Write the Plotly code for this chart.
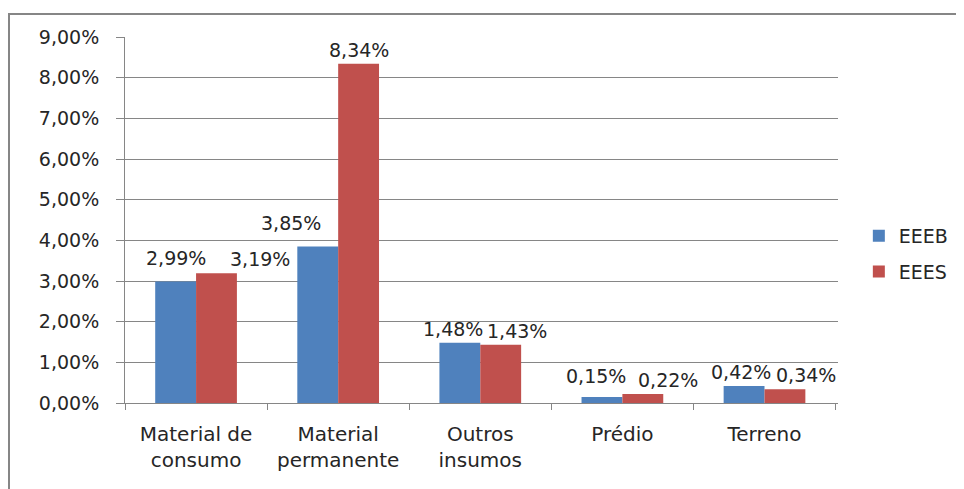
import plotly.graph_objects as go

categories = ["Material de<br>consumo", "Material<br>permanente", "Outros<br>insumos", "Prédio", "Terreno"]
eeeb = [0.0299, 0.0385, 0.0148, 0.0015, 0.0042]
eees = [0.0319, 0.0834, 0.0143, 0.0022, 0.0034]
series_names = ["EEEB", "EEES"]
tick_vals = [0, 0.01, 0.02, 0.03, 0.04, 0.05, 0.06, 0.07, 0.08, 0.09]

# label style nudges (pixels)
label_dx = {"EEEB": [0, -27, -7, -6, -3], "EEES": [43, 0, 16, 25, 21]}
label_dy = {"EEEB": [9, 9, 0, 7, 0], "EEES": [0, 0, 0, 0, 0]}

colors = {"EEEB": "#4F81BD", "EEES": "#C0504D"}
FONT = "DejaVu Sans"
TXT = "#262626"
GRAY = "#868686"

# page body has an 8px margin
OFF = 8
W, H = 964 - OFF, 489 - OFF
ML, MT = 125 - OFF, 37 - OFF
pw, ph = 713, 366
MR, MB = W - ML - pw, H - MT - ph

fig = go.Figure()
for name, vals in zip(series_names, [eeeb, eees]):
    fig.add_trace(go.Bar(x=categories, y=vals, name=name, marker_color=colors[name],
                         marker_line_width=0, legendgroup=name))

cat_w = pw / len(categories)
bargap = 0.425
bw = cat_w * (1 - bargap) / 2
annotations = []
for name, vals, sgn in zip(series_names, [eeeb, eees], [-1, 1]):
    for i, (c, v) in enumerate(zip(categories, vals)):
        annotations.append(dict(
            x=c, y=v, xref="x", yref="y",
            text=f"{v*100:.2f}%".replace(".", ","),
            showarrow=False, yanchor="bottom", xanchor="center",
            xshift=sgn * bw / 2 + label_dx[name][i],
            yshift=1 + label_dy[name][i],
            font=dict(family=FONT, size=19, color=TXT),
        ))

# outer chart border
bx0 = (9 - OFF - ML) / pw
by1 = 1 + (MT - (14 - OFF)) / ph
fig.add_shape(type="rect", xref="paper", yref="paper", x0=bx0, x1=1.3, y0=-0.4, y1=by1,
              line=dict(color=GRAY, width=2), fillcolor="rgba(0,0,0,0)", layer="below")

fig.update_layout(
    width=W, height=H,
    margin=dict(l=ML, r=MR, t=MT, b=MB, autoexpand=False),
    paper_bgcolor="white", plot_bgcolor="white",
    barmode="group", bargap=bargap, bargroupgap=0,
    separators=",.",
    font=dict(family=FONT, size=19, color=TXT),
    showlegend=True,
    legend=dict(xref="container", yref="container", x=0.890, y=0.4886,
                xanchor="left", yanchor="middle",
                font=dict(family=FONT, size=19, color=TXT),
                tracegroupgap=8, traceorder="grouped", bgcolor="rgba(0,0,0,0)"),
    annotations=annotations,
    xaxis=dict(showline=True, linecolor=GRAY, linewidth=1, ticks="outside",
               tickson="boundaries", ticklen=6, tickcolor=GRAY, showgrid=False,
               tickfont=dict(family=FONT, size=20, color=TXT), ticklabelstandoff=13),
    yaxis=dict(range=[0, 0.09], tickvals=tick_vals, tickformat=".2%",
               showline=True, linecolor=GRAY, linewidth=1, ticks="outside",
               ticklen=8, tickcolor=GRAY, showgrid=True, gridcolor=GRAY, gridwidth=1,
               zeroline=False, tickfont=dict(family=FONT, size=19, color=TXT),
               ticklabelstandoff=13),
)

fig.write_html("out.html")
